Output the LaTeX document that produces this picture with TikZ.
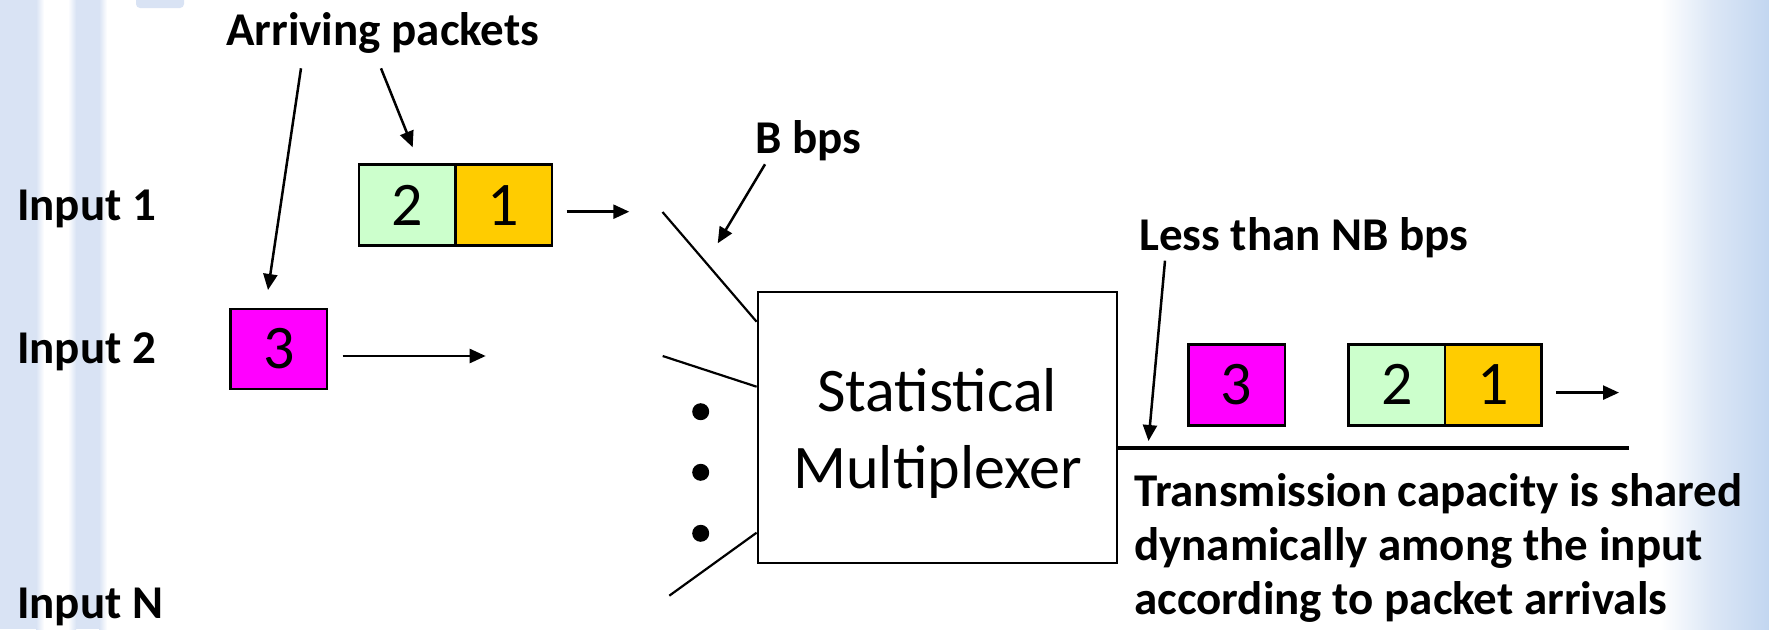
\documentclass[tikz,border=0pt]{standalone}
\usepackage{fontspec}
\setmainfont{Carlito}
\usetikzlibrary{arrows.meta}

\definecolor{slideblue}{HTML}{D9E3F4}
\definecolor{edgeblue}{HTML}{C2D6F0}
\definecolor{midblue}{HTML}{DCE7F6}
\definecolor{pktgreen}{HTML}{CCFFCC}
\definecolor{pktgold}{HTML}{FFCC00}
\definecolor{pktmagenta}{HTML}{FF00FF}

\begin{document}
\begin{tikzpicture}[x=1pt,y=-1pt,
  lbl/.style={font=\fontsize{47}{54}\selectfont\bfseries, inner sep=0pt, anchor=base west},
  pkt/.style={draw=black, line width=2.5pt, minimum width=96.5pt, minimum height=81pt,
              inner sep=0pt, anchor=north west, font=\fontsize{62}{70}\selectfont},
  muxtext/.style={font=\fontsize{62}{76}\selectfont, inner sep=0pt, anchor=base},
  wire/.style={line width=2.2pt},
  arr/.style={line width=2.5pt, -{Triangle[length=16pt,width=14pt]}},
  dot/.style={fill=black, draw=none}
]
\useasboundingbox (0,0) rectangle (1769,629);

% slide background: plain white with pale stripes on the left and a soft blue fade on the right
\fill[white] (0,0) rectangle (1769,629);
\fill[slideblue] (0,0) rectangle (36,629);
\shade[left color=slideblue, right color=white] (36,0) rectangle (44,629);
\shade[left color=white, right color=slideblue] (68,0) rectangle (76,629);
\fill[slideblue] (76,0) rectangle (99,629);
\shade[left color=slideblue, right color=white] (99,0) rectangle (107,629);
\fill[slideblue, rounded corners=4pt] (136,-6) rectangle (184,8);
\shade[left color=white, right color=midblue] (1660,0) rectangle (1712,629);
\shade[left color=midblue, right color=edgeblue] (1712,0) rectangle (1769,629);

% input labels
\node[lbl] (in1) at (17,220) {Input 1};
\node[lbl] (in2) at (17,363) {Input 2};
\node[lbl] (inN) at (17,618) {Input N};

% packets waiting on the inputs
\node[pkt, fill=pktgreen] (p2) at (357.7,163.3) {2};
\node[pkt, fill=pktgold] (p1) at (454,163.3) {1};
\node[pkt, fill=pktmagenta, minimum height=80pt] (p3) at (229.3,307.7) {3};

% the multiplexer
\node[draw=black, line width=2.2pt, minimum width=359pt, minimum height=271.6pt, inner sep=0pt]
  (mux) at (937.2,427.5) {};
\node[muxtext] (mux1) at (937.2,411.7) {Statistical};
\node[muxtext] (mux2) at (937.8,488) {Multiplexer};

% input lines into the multiplexer
\coordinate (w1) at (662.5,212);
\coordinate (w2) at (662.7,356);
\coordinate (wN) at (669.3,595.7);
\draw[wire] (w1) -- (mux.west |- 0,321.7);
\draw[wire] (w2) -- (mux.west |- 0,386.7);
\draw[wire] (wN) -- (mux.west |- 0,532.7);

% ellipsis between input 2 and input N
\fill[dot] (700.7,411.7) circle (8.5);
\fill[dot] (700.7,472.3) circle (8.5);
\fill[dot] (700.7,533.3) circle (8.5);

% direction of travel on the inputs
\coordinate (a1s) at (566.7,211.7);
\coordinate (a1e) at (629.3,211.7);
\draw[arr] (a1s) -- (a1e);
\coordinate (a2s) at (342.7,356);
\coordinate (a2e) at (485.7,356);
\draw[arr] (a2s) -- (a2e);

% output link
\coordinate (outend) at (1629,448);
\draw[line width=3.5pt] (mux.east |- 0,448) -- (outend);

% packets leaving on the shared link
\node[pkt, fill=pktmagenta] (q3) at (1187,343) {3};
\node[pkt, fill=pktgreen] (q2) at (1347.3,343) {2};
\node[pkt, fill=pktgold] (q1) at (1443.7,343) {1};
\coordinate (o1s) at (1556,392.6);
\coordinate (o1e) at (1619,392.6);
\draw[arr] (o1s) -- (o1e);

% annotations
\node[lbl] (arriving) at (226,45) {Arriving packets};
\coordinate (ar1s) at (301,68.3);
\coordinate (ar1e) at (268,290);
\coordinate (ar2s) at (381,68.3);
\coordinate (ar2e) at (412.7,147.3);
\draw[arr] (ar1s) -- (ar1e);
\draw[arr] (ar2s) -- (ar2e);

\node[lbl] (bbps) at (755,153.3) {B bps};
\coordinate (bs) at (765,164.3);
\coordinate (be) at (717.7,243.3);
\draw[arr] (bs) -- (be);

\node[lbl] (nbbps) at (1139,250) {Less than NB bps};
\coordinate (ls) at (1165,260.7);
\coordinate (le) at (1148.5,441);
\draw[arr] (ls) -- (le);

% base anchor of a multi-line node sits on its last line
\node[lbl, align=left] (share) at (1134,614)
  {Transmission capacity is shared\\dynamically among the input\\according to packet arrivals};
\end{tikzpicture}
\end{document}
